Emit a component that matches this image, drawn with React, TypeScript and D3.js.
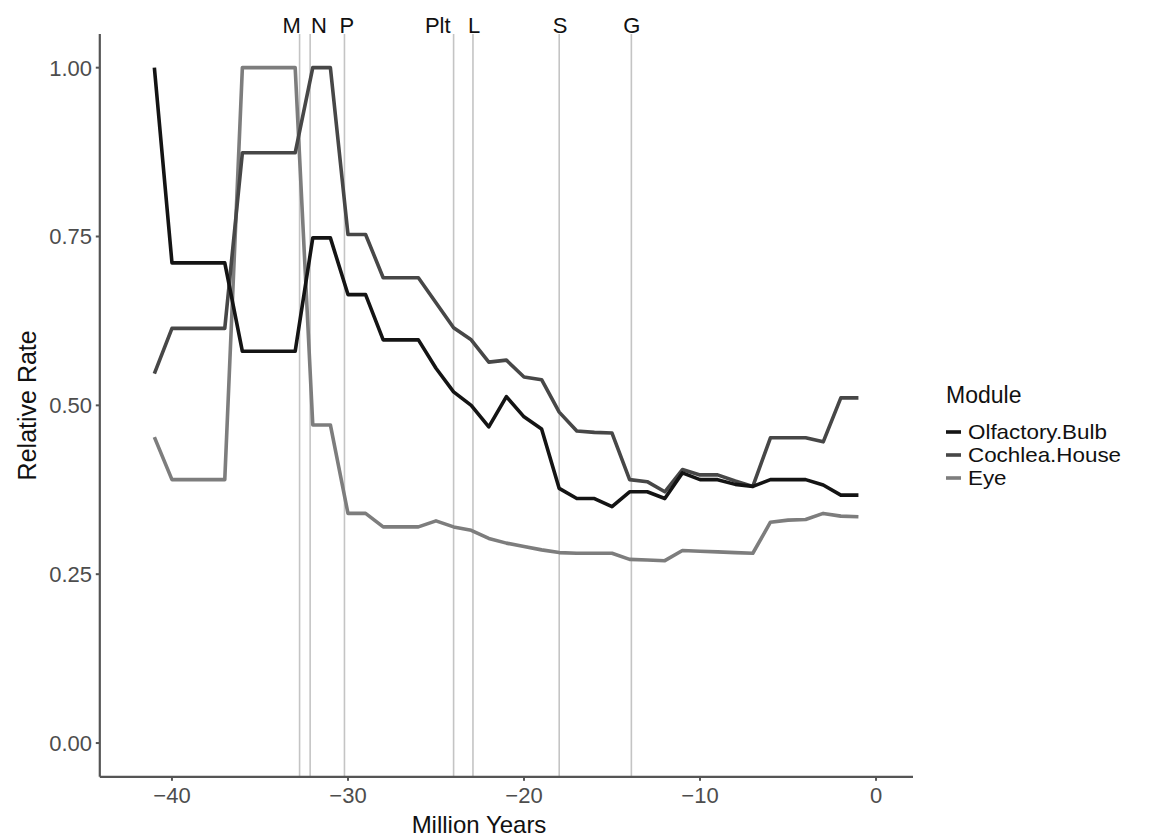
import * as d3 from 'd3';

// time steps (million years before present)
const years = [
  -41, -40, -39, -38, -37, -36, -35, -34, -33, -32, -31, -30, -29, -28,
  -27, -26, -25, -24, -23, -22, -21, -20, -19, -18, -17, -16, -15, -14,
  -13, -12, -11, -10, -9, -8, -7, -6, -5, -4, -3, -2, -1,
];

const olfactory = [
  1.0, 0.711, 0.711, 0.711, 0.711, 0.58, 0.58, 0.58, 0.58, 0.748, 0.748,
  0.664, 0.664, 0.597, 0.597, 0.597, 0.555, 0.52, 0.5, 0.468, 0.513, 0.483,
  0.465, 0.377, 0.362, 0.362, 0.35, 0.372, 0.372, 0.362, 0.4, 0.39, 0.39,
  0.383, 0.38, 0.39, 0.39, 0.39, 0.382, 0.367, 0.367,
];

const cochlea = [
  0.547, 0.614, 0.614, 0.614, 0.614, 0.874, 0.874, 0.874, 0.874, 1.0, 1.0,
  0.753, 0.753, 0.689, 0.689, 0.689, 0.652, 0.615, 0.597, 0.564, 0.567,
  0.542, 0.538, 0.49, 0.462, 0.46, 0.459, 0.39, 0.387, 0.372, 0.405, 0.397,
  0.397, 0.388, 0.38, 0.452, 0.452, 0.452, 0.446, 0.511, 0.511,
];

const eye = [
  0.453, 0.39, 0.39, 0.39, 0.39, 1.0, 1.0, 1.0, 1.0, 0.471, 0.471, 0.34,
  0.34, 0.32, 0.32, 0.32, 0.329, 0.32, 0.315, 0.303, 0.296, 0.291, 0.286,
  0.282, 0.281, 0.281, 0.281, 0.272, 0.271, 0.27, 0.285, 0.284, 0.283,
  0.282, 0.281, 0.327, 0.33, 0.331, 0.34, 0.336, 0.335,
];

const moduleNames = ['Olfactory.Bulb', 'Cochlea.House', 'Eye'];
const moduleColors = ['#141414', '#474747', '#7d7d7d'];

// events marked with vertical lines, and where their labels sit
const eventNames = ['M', 'N', 'P', 'Plt', 'L', 'S', 'G'];
const eventYears = [-32.75, -32.15, -30.2, -24.0, -22.9, -18.0, -13.9];
const eventLabelYears = [-33.2, -31.65, -30.06, -24.9, -22.84, -17.95, -13.88];

const xTicks = [-40, -30, -20, -10, 0];
const yTicks = [0, 0.25, 0.5, 0.75, 1.0];

const FONT = '"Liberation Sans", Arial, Helvetica, sans-serif';

function App() {
  const width = 1159;
  const height = 838;

  const x = d3.scaleLinear().domain([-44.1, 2.1]).range([99.8, 913]);
  const y = d3.scaleLinear().domain([-0.05, 1.05]).range([776.8, 33.9]);

  const line = d3
    .line<number>()
    .x((_, i) => x(years[i]))
    .y((d) => y(d));

  const series = [olfactory, cochlea, eye];
  const fmtMinus = (v: number) => (v < 0 ? '\u2212' + Math.abs(v) : String(v));

  return (
    <svg
      width={width}
      height={height}
      style={{ position: 'absolute', left: 0, top: 0, background: '#fff' }}
      fontFamily={FONT}
    >
      {/* event lines */}
      {eventYears.map((ev, i) => (
        <line
          key={'ev' + i}
          x1={x(ev)}
          x2={x(ev)}
          y1={y.range()[1]}
          y2={y.range()[0]}
          stroke="#c4c4c4"
          strokeWidth={1.6}
        />
      ))}
      {eventNames.map((name, i) => (
        <text
          key={'evl' + i}
          x={x(eventLabelYears[i])}
          y={33}
          textAnchor="middle"
          fontSize={22}
          fill="#111"
        >
          {name}
        </text>
      ))}

      {/* series, drawn back to front */}
      {[2, 1, 0].map((k) => (
        <path
          key={'s' + k}
          d={line(series[k]) || ''}
          fill="none"
          stroke={moduleColors[k]}
          strokeWidth={3.6}
          strokeLinejoin="round"
        />
      ))}

      {/* axes */}
      <line x1={x.range()[0]} x2={x.range()[0]} y1={y.range()[1]} y2={y.range()[0]} stroke="#555" strokeWidth={2.2} />
      <line x1={x.range()[0]} x2={x.range()[1]} y1={y.range()[0]} y2={y.range()[0]} stroke="#555" strokeWidth={2.2} />
      {yTicks.map((t) => (
        <g key={'yt' + t}>
          <line x1={x.range()[0] - 4} x2={x.range()[0]} y1={y(t)} y2={y(t)} stroke="#555" strokeWidth={2} />
          <text x={92} y={y(t)} dy="0.36em" textAnchor="end" fontSize={22} fill="#4d4d4d">
            {t.toFixed(2)}
          </text>
        </g>
      ))}
      {xTicks.map((t) => (
        <g key={'xt' + t}>
          <line x1={x(t)} x2={x(t)} y1={y.range()[0]} y2={y.range()[0] + 4} stroke="#555" strokeWidth={2} />
          <text x={x(t)} y={803} textAnchor="middle" fontSize={22} fill="#4d4d4d">
            {fmtMinus(t)}
          </text>
        </g>
      ))}
      <text x={479} y={833} textAnchor="middle" fontSize={24} fill="#111">
        Million Years
      </text>
      <text
        transform={`translate(36,${(y.range()[0] + y.range()[1]) / 2}) rotate(-90)`}
        textAnchor="middle"
        fontSize={25}
        fill="#111"
      >
        Relative Rate
      </text>

      {/* legend */}
      <text x={946} y={403} fontSize={23} fill="#111">
        Module
      </text>
      {moduleNames.map((name, i) => (
        <g key={'lg' + i} transform={`translate(0,${432 + i * 23})`}>
          <line x1={946} x2={961} y1={0} y2={0} stroke={moduleColors[i]} strokeWidth={3.6} />
          <text x={968} y={0} dy="0.36em" fontSize={20} fill="#111" transform="translate(968,0) scale(1.12,1) translate(-968,0)">
            {name}
          </text>
        </g>
      ))}
    </svg>
  );
}

export default App;
